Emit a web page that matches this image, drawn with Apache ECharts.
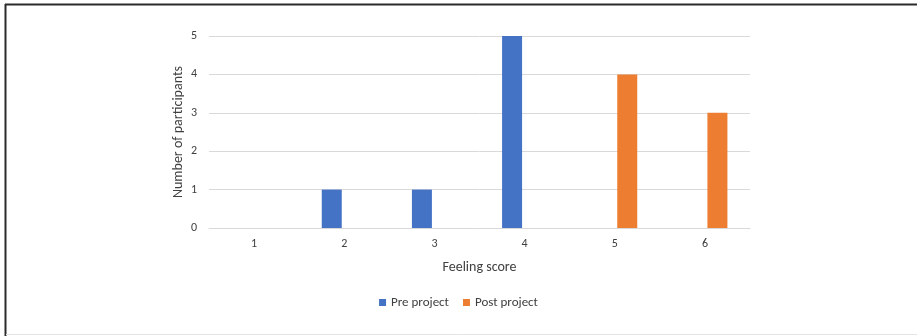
<!DOCTYPE html>
<html>
<head>
<meta charset="utf-8">
<script src="https://cdn.jsdelivr.net/npm/echarts@6/dist/echarts.min.js"></script>
<style>
  html, body { margin: 0; padding: 0; background: #fff; }
  #chart { width: 917px; height: 336px; }
</style>
</head>
<body>
<div id="chart"></div>
<script>
// Feeling scores before and after the project
const categories = ['1', '2', '3', '4', '5', '6'];
const preProject = [0, 1, 1, 5, 0, 0];
const postProject = [0, 0, 0, 0, 4, 3];
const yTicks = [0, 1, 2, 3, 4, 5];

const font = 'Carlito, Calibri, "Liberation Sans", "Open Sans", sans-serif';
const chart = echarts.init(document.getElementById('chart'), null, { renderer: 'canvas' });

chart.setOption({
  animation: false,
  textStyle: { fontFamily: font },
  grid: { left: 209, right: 167, top: 36, bottom: 108, containLabel: false },
  graphic: [
    { type: 'line', shape: { x1: 5, y1: 4.5, x2: 917, y2: 4.5 }, style: { stroke: '#2b2b2b', lineWidth: 2 } },
    { type: 'line', shape: { x1: 5.5, y1: 4, x2: 5.5, y2: 336 }, style: { stroke: '#2b2b2b', lineWidth: 2 } },
    { type: 'line', shape: { x1: 6, y1: 334.5, x2: 917, y2: 334.5 }, style: { stroke: '#e4e4e4', lineWidth: 1 } }
  ],
  legend: {
    data: ['Pre project', 'Post project'],
    bottom: 22,
    left: 'center',
    itemWidth: 7,
    itemHeight: 7,
    itemGap: 14,
    icon: 'rect',
    textStyle: { fontFamily: font, fontSize: 13, color: '#404040' }
  },
  xAxis: {
    type: 'category',
    data: categories,
    name: 'Feeling score',
    nameLocation: 'middle',
    nameGap: 32,
    nameTextStyle: { fontFamily: font, fontSize: 14, color: '#404040' },
    axisLine: { lineStyle: { color: '#d9d9d9' } },
    axisTick: { show: false },
    axisLabel: { fontFamily: font, fontSize: 12, color: '#404040', margin: 10 }
  },
  yAxis: {
    type: 'value',
    min: yTicks[0],
    max: yTicks[yTicks.length - 1],
    interval: 1,
    name: 'Number of participants',
    nameLocation: 'middle',
    nameGap: 24,
    nameMoveOverlap: false,
    nameTextStyle: { fontFamily: font, fontSize: 14, color: '#404040' },
    axisLine: { show: false },
    axisTick: { show: false },
    axisLabel: { fontFamily: font, fontSize: 12, color: '#404040', margin: 12 },
    splitLine: { lineStyle: { color: '#d9d9d9' } }
  },
  series: [
    {
      name: 'Pre project',
      type: 'bar',
      data: preProject,
      barWidth: 20,
      barGap: '25%',
      itemStyle: { color: '#4472c4' }
    },
    {
      name: 'Post project',
      type: 'bar',
      data: postProject,
      barWidth: 20,
      barGap: '25%',
      itemStyle: { color: '#ed7d31' }
    }
  ]
});
</script>
</body>
</html>
